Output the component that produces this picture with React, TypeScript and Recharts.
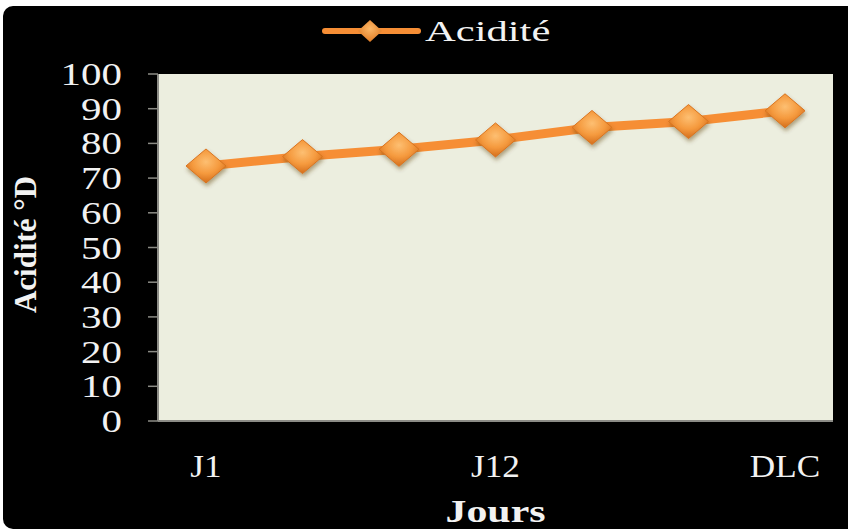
import React from "react";
import { LineChart, Line, XAxis, YAxis, CartesianGrid, Label } from "recharts";

// Acidité (°D) measured over the storage days
const jours = ["J1", "", "", "J12", "", "", "DLC"];
const acidite = [73.5, 76.2, 78.3, 81, 84.6, 86.3, 89.4];
const yTicks = [0, 10, 20, 30, 40, 50, 60, 70, 80, 90, 100];

const data = acidite.map((v, i) => ({ idx: i, acidite: v }));

const SERIF = "'Liberation Serif', 'Times New Roman', serif";
const ORANGE = "#F68E35";
const AXIS = "#8c8c86";

function Diamond({ cx, cy, hw = 20, hh = 17 }: { cx: number; cy: number; hw?: number; hh?: number }) {
  if (cx == null || cy == null) return null;
  const pts = `${cx},${cy - hh} ${cx + hw},${cy} ${cx},${cy + hh} ${cx - hw},${cy}`;
  return <polygon points={pts} fill="url(#diamondFill)" stroke="#d9741f" strokeWidth={1} filter="url(#dotShadow)" />;
}

function YTick({ x, y, payload }: any) {
  return (
    <g transform={`translate(${x - 24},${y}) scale(1.28,1)`}>
      <text x={0} y={11} textAnchor="end" fill="#f2f2f2" fontSize={32} fontFamily={SERIF}>
        {payload.value}
      </text>
    </g>
  );
}

function XTick({ x, y, payload }: any) {
  const label = jours[payload.value];
  if (!label) return null;
  return (
    <g transform={`translate(${x},${y + 56}) scale(1.1,1)`}>
      <text x={0} y={0} textAnchor="middle" fill="#f2f2f2" fontSize={32} fontFamily={SERIF}>
        {label}
      </text>
    </g>
  );
}

export default function App() {
  return (
    <div style={{ position: "absolute", left: 0, top: 0, width: 848, height: 529, background: "#fff", overflow: "hidden" }}>
      <div style={{ position: "absolute", left: 3, top: 6, width: 860, height: 523, background: "#000", borderRadius: 10 }} />

      {/* legend */}
      <svg style={{ position: "absolute", left: 0, top: 0 }} width={848} height={60}>
        <defs>
          <radialGradient id="legendFill" cx="50%" cy="40%" r="60%">
            <stop offset="0%" stopColor="#fcb868" />
            <stop offset="100%" stopColor="#e27c24" />
          </radialGradient>
        </defs>
        <line x1={325} y1={31} x2={418} y2={31} stroke={ORANGE} strokeWidth={6} strokeLinecap="round" />
        <polygon points="370,20 382,31 370,42 358,31" fill="url(#legendFill)" />
        <g transform="translate(425,41) scale(1.42,1)">
          <text x={0} y={0} fill="#f2f2f2" fontSize={30} fontFamily={SERIF}>
            Acidité
          </text>
        </g>
      </svg>

      <div style={{ position: "absolute", left: 0, top: 0 }}>
        <LineChart width={848} height={529} data={data} margin={{ top: 74, right: 15, bottom: 48, left: 0 }}>
          <defs>
            <radialGradient id="diamondFill" cx="50%" cy="38%" r="62%">
              <stop offset="0%" stopColor="#fdbf72" />
              <stop offset="55%" stopColor="#f59a3e" />
              <stop offset="100%" stopColor="#d46e1c" />
            </radialGradient>
            <filter id="dotShadow" x="-50%" y="-50%" width="200%" height="200%">
              <feDropShadow dx={1} dy={3} stdDeviation={2} floodColor="#5a3a10" floodOpacity={0.45} />
            </filter>
          </defs>
          <CartesianGrid fill="#ECEEDF" horizontal={false} vertical={false} />
          <XAxis
            dataKey="idx"
            type="category"
            interval={0}
            height={60}
            padding={{ left: 48, right: 48 }}
            tickLine={false}
            tickSize={0}
            tickMargin={0}
            axisLine={{ stroke: AXIS, strokeWidth: 2 }}
            tick={<XTick />}
          >
            <Label
              content={({ viewBox }: any) => (
                <g transform={`translate(${viewBox.x + viewBox.width / 2},${viewBox.y + 101}) scale(1.35,1)`}>
                  <text x={0} y={0} textAnchor="middle" fill="#f2f2f2" fontSize={31} fontWeight="bold" fontFamily={SERIF}>
                    Jours
                  </text>
                </g>
              )}
            />
          </XAxis>
          <YAxis
            width={158}
            domain={[0, 100]}
            ticks={yTicks}
            interval={0}
            tickSize={10}
            tickLine={{ stroke: AXIS, strokeWidth: 1.5 }}
            axisLine={{ stroke: AXIS, strokeWidth: 2 }}
            tick={<YTick />}
          >
            <Label
              content={({ viewBox }: any) => (
                <text
                  x={36}
                  y={viewBox.y + viewBox.height / 2 - 3}
                  transform={`rotate(-90, 36, ${viewBox.y + viewBox.height / 2 - 3})`}
                  textAnchor="middle"
                  fill="#f2f2f2"
                  fontSize={31}
                  fontWeight="bold"
                  fontFamily={SERIF}
                >
                  Acidité °D
                </text>
              )}
            />
          </YAxis>
          <Line
            type="linear"
            dataKey="acidite"
            stroke={ORANGE}
            strokeWidth={9}
            dot={(p: any) => <Diamond key={p.index} cx={p.cx} cy={p.cy} />}
            activeDot={false}
            isAnimationActive={false}
          />
        </LineChart>
      </div>
    </div>
  );
}
